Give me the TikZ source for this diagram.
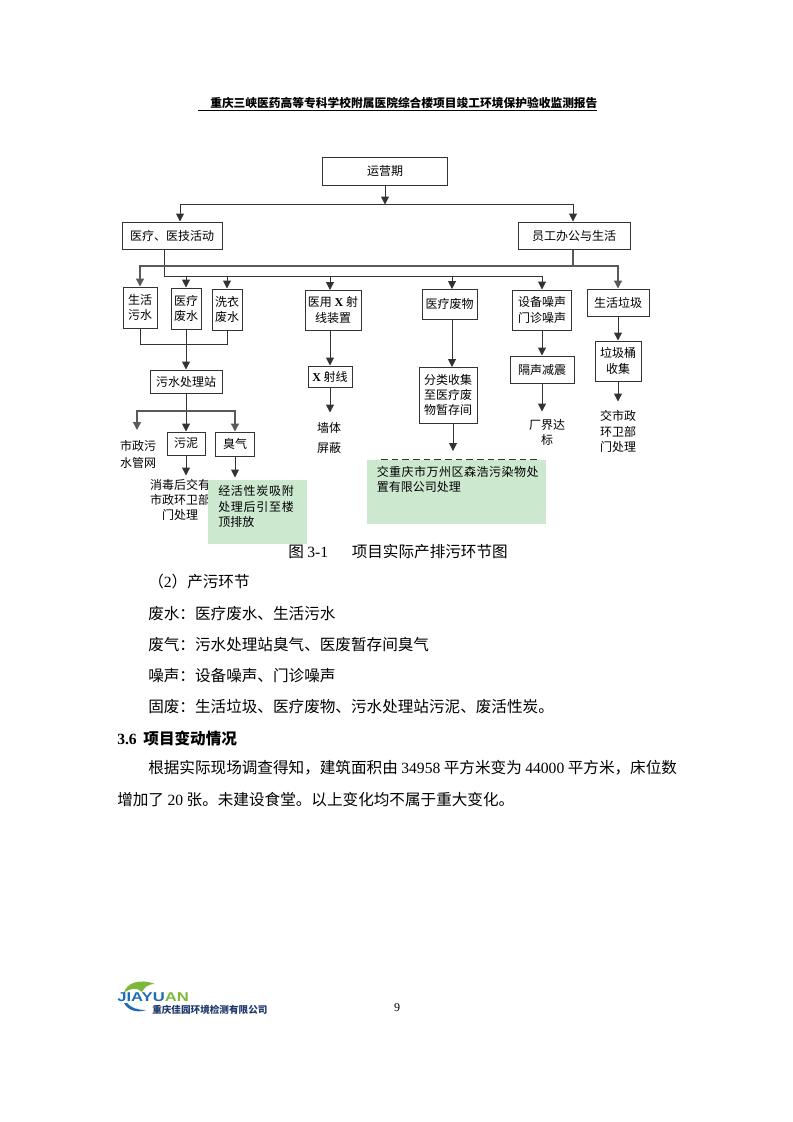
\documentclass[tikz,border=0pt]{standalone}
\usepackage{fontspec}
\setmainfont{Noto Sans CJK SC}
\newfontfamily\lat{Liberation Serif}
\newfontfamily\logofont{Liberation Sans}
\usetikzlibrary{arrows.meta}
\definecolor{eyegreen}{HTML}{CCE8CF}
\definecolor{linedark}{HTML}{333333}
\definecolor{busgray}{HTML}{5A5A5A}
\definecolor{logoblue}{HTML}{1F6DB0}
\definecolor{logogreen}{HTML}{7DB83A}
\definecolor{logonavy}{HTML}{1F3A6E}
\tikzset{
  conn/.style={draw=linedark,line width=0.75pt},
  bus/.style={draw=busgray,line width=1pt},
  arr/.style={conn,-{Triangle[length=6pt,width=6pt]}},
  busarr/.style={bus,-{Triangle[length=6pt,width=6pt]}},
  sz/.style 2 args={minimum width=#1*0.75pt,minimum height=#2*0.75pt},
  boxn/.style={draw=linedark,line width=0.75pt,fill=white,inner sep=0pt,align=center,
    font=\fontsize{9}{11.4}\selectfont},
  plain/.style={inner sep=0pt,align=center,font=\fontsize{9}{11.4}\selectfont},
  greenbox/.style={fill=eyegreen,inner sep=0pt,draw=none},
  greentext/.style={inner sep=0pt,align=left,anchor=north west,font=\fontsize{9}{11.4}\selectfont},
  body/.style={inner sep=0pt,anchor=west,font=\fontsize{11.7}{14}\selectfont},
}
\begin{document}
\begin{tikzpicture}[x=0.75pt,y=-0.75pt]
\useasboundingbox[fill=white] (0,0) rectangle (793,1122);

% title
\node[inner sep=0pt,anchor=west,font=\fontsize{8.8}{11}\selectfont\bfseries] (title) at (210,103.5)
  {重庆三峡医药高等专科学校附属医院综合楼项目竣工环境保护验收监测报告};
\coordinate (ulA) at (198,110.5);
\coordinate (ulB) at (597,110.5);
\draw[line width=0.8pt] (ulA) -- (ulB);

% top level
\node[boxn,sz={125}{28}] (top) at (385,171) {运营期};
\node[boxn,sz={100}{27}] (med) at (172,235.5) {医疗、医技活动};
\node[boxn,sz={112}{27}] (staff) at (574,235.5) {员工办公与生活};

% second row
\node[boxn,sz={34}{41}] (life) at (140,307.5) {生活\\污水};
\node[boxn,sz={30}{41}] (medw) at (186,308.5) {医疗\\废水};
\node[boxn,sz={30}{41}] (wash) at (227,309.5) {洗衣\\废水};
\node[boxn,sz={56}{40}] (xdev) at (333,310) {医用 {\lat\bfseries X} 射\\线装置};
\node[boxn,sz={55}{30}] (mwaste) at (449.5,304) {医疗废物};
\node[boxn,sz={59}{40}] (noise) at (542,310) {设备噪声\\门诊噪声};
\node[boxn,sz={62}{27}] (garb) at (618,302.5) {生活垃圾};

% third row
\node[boxn,sz={72}{23}] (stp) at (186,381.5) {污水处理站};
\node[boxn,sz={44}{21}] (xray) at (330,376.5) {{\lat\bfseries X} 射线};
\node[boxn,sz={58}{56}] (sort) at (448,395) {分类收集\\至医疗废\\物暂存间};
\node[boxn,sz={64}{27}] (quiet) at (542,369.5) {隔声减震};
\node[boxn,sz={46}{40}] (bin) at (618,361) {垃圾桶\\收集};

% fourth row
\node[boxn,sz={38}{23}] (sludge) at (186,443.5) {污泥};
\node[boxn,sz={39}{24}] (odor) at (235,444) {臭气};

% free texts
\node[plain] (pipe) at (138,454) {市政污\\[1.2pt]水管网};
\node[plain] (sludgeout) at (180,500) {消毒后交有\\市政环卫部\\门处理};
\node[plain] (wall) at (329,438) {墙体\\[3.6pt]屏蔽};
\node[plain] (bound) at (547,432.5) {厂界达\\标};
\node[plain] (gout) at (618,431.5) {交市政\\环卫部\\门处理};

% junctions and off-centre connector ends
\coordinate (j1) at (385,204.5);
\coordinate (busA) at (164,276);
\coordinate (busB) at (573,266);
\coordinate (collect) at (186,344);
\coordinate (split) at (186,411);
\coordinate (xBus) at (330,276);
\coordinate (xTop) at (330,290);
\coordinate (xBot) at (330,330);
\coordinate (mwBus) at (452,276);
\coordinate (mwTop) at (452,289);
\coordinate (mwBot) at (452,319);
\coordinate (sortTop) at (452,367);
\coordinate (sortBot) at (453,423);
\coordinate (sortEnd) at (453,451);
\coordinate (pipeTip) at (137,430);

% connectors
\draw[arr] (top.south) -- (j1);
\draw[arr] (j1) -| ([xshift=6pt]med.north);
\draw[arr] (j1) -| ([xshift=-0.75pt]staff.north);

\draw[conn] ([xshift=-6pt]med.south) |- (busA) -- (busA -| noise.north);
\draw[bus] ([xshift=-0.75pt]staff.south) -- (busB);
\draw[busarr] (busB) -| (life.north);
\draw[busarr] (busB) -| (garb.north);
\draw[arr] (busA -| medw.north) -- (medw.north);
\draw[arr] (busA -| wash.north) -- (wash.north);
\draw[arr] (xBus) -- (xTop);
\draw[arr] (mwBus) -- (mwTop);
\draw[arr] (busA -| noise.north) -- (noise.north);

\draw[conn] (life.south) |- (collect);
\draw[conn] (wash.south) |- (collect);
\draw[conn] (medw.south) -- (collect);
\draw[arr] (collect) -- (stp.north);

\draw[conn] (stp.south) -- (split);
\draw[busarr] (split) -| (pipeTip);
\draw[arr] (split) -- (sludge.north);
\draw[busarr] (split) -| (odor.north);
\draw[arr] (sludge.south) -- ++(0,20);
\draw[arr] (odor.south) -- ++(0,21);

\draw[arr] (xBot) -- (xray.north);
\draw[arr] (xray.south) -- ++(0,25);
\draw[arr] (mwBot) -- (sortTop);
\draw[arr] (noise.south) -- (quiet.north);
\draw[arr] (quiet.south) -- ++(0,28);
\draw[arr] (garb.south) -- (bin.north);
\draw[arr] (bin.south) -- ++(0,20);
\draw[arr] (sortBot) -- (sortEnd);

% green overlays
\draw[draw=linedark,line width=1.3pt,dash pattern=on 5pt off 3pt] (381,459.5) -- (537,459.5);
\node[greenbox,sz={99}{64}] (g1) at (257.5,512) {};
\node[greentext] (g1t) at (218,485.5) {\addfontfeature{LetterSpace=6}经活性炭吸附\\\addfontfeature{LetterSpace=6}处理后引至楼\\顶排放};
\node[greenbox,sz={179}{64}] (g2) at (456.5,492) {};
\node[greentext] (g2t) at (376.5,466) {\addfontfeature{LetterSpace=4}交重庆市万州区森浩污染物处\\置有限公司处理};

% caption and body
\node[body] (cap1) at (288,552) {图 {\lat 3-1}};
\node[body] (cap2) at (351.5,552) {项目实际产排污环节图};
\node[body] (p1) at (148,582) {（{\lat 2}）产污环节};
\node[body] (p2) at (148,614) {废水：医疗废水、生活污水};
\node[body] (p3) at (148,645) {废气：污水处理站臭气、医废暂存间臭气};
\node[body] (p4) at (148,676) {噪声：设备噪声、门诊噪声};
\node[body] (p5) at (148,707) {固废：生活垃圾、医疗废物、污水处理站污泥、废活性炭。};
\node[body,font=\fontsize{11.7}{14}\selectfont\bfseries] (h36) at (117,738) {{\lat\bfseries 3.6}\hspace{5pt}项目变动情况};
\node[body] (p6) at (148,768) {根据实际现场调查得知，建筑面积由 {\lat 34958} 平方米变为 {\lat 44000} 平方米，床位数};
\node[body] (p7) at (117,800) {增加了 {\lat 20} 张。未建设食堂。以上变化均不属于重大变化。};

% footer
\fill[logogreen] (124,993) .. controls (126,983) and (140,978) .. (155,984)
  .. controls (147,984) and (144,988) .. (142,992)
  .. controls (137,987) and (130,988) .. (124,993) -- cycle;
\fill[logoblue] (124,1003) .. controls (128,1011) and (138,1013) .. (146,1010)
  .. controls (138,1010) and (131,1008) .. (127,1003) -- cycle;
\node[inner sep=0pt,anchor=west,xscale=1.3,font=\logofont\fontsize{9.6}{10}\selectfont\bfseries,text=logoblue] (logo) at (117,997.5)
  {JIAYU\textcolor{logogreen}{AN}};
\node[inner sep=0pt,anchor=west,text=logonavy,font=\fontsize{7.2}{9}\selectfont\bfseries] (company) at (152,1009.5) {重庆佳园环境检测有限公司};
\node[inner sep=0pt,font=\lat\fontsize{9}{11}\selectfont] (pageno) at (397,1008) {9};
\end{tikzpicture}
\end{document}
